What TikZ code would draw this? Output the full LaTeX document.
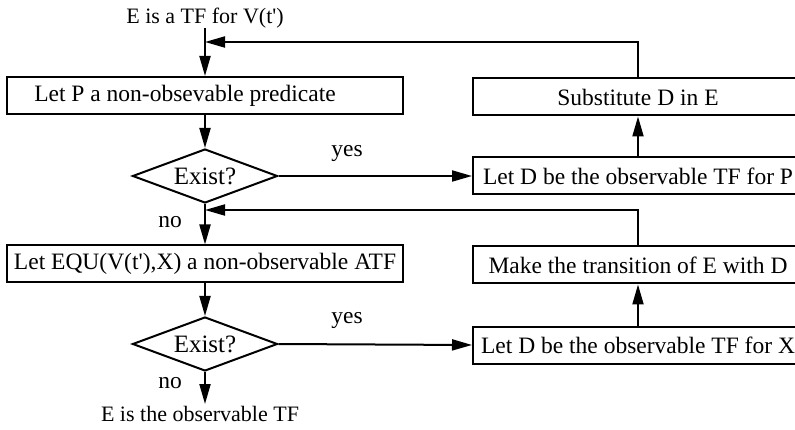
\documentclass[tikz,border=0pt]{standalone}
\usepackage{fontspec}
\setmainfont{Liberation Serif}
\usetikzlibrary{shapes.geometric,arrows.meta}
\begin{document}
\begin{tikzpicture}[x=1pt,y=-1pt,
  font=\fontsize{23.5}{26}\selectfont,
  box/.style={draw, line width=2pt, rectangle, inner sep=0pt, minimum height=37pt},
  lbox/.style={box, minimum width=396pt},
  rbox/.style={box, minimum width=330pt},
  test/.style={draw, diamond, line width=2pt, aspect=2.8, inner sep=0pt,
               minimum width=145pt, minimum height=54pt,
               font=\fontsize{25}{28}\selectfont},
  flow/.style={line width=2pt, -{Triangle[length=20pt,width=11pt]}},
  lbl/.style={inner sep=0pt},
  endtext/.style={lbl, font=\fontsize{22}{25}\selectfont}]
\path[use as bounding box] (0,0) rectangle (795,430);
\clip (0,0) rectangle (795,430);

% main column
\node[endtext] (start) at (205,18) {E is a TF for V(t\textquotesingle)};
\node[lbox] (p1) at (205,95.5) {Let P a non-obsevable predicate\hspace*{40pt}};
\node[test] (d1) at (205,176) {Exist?};
\node[lbox] (p2) at (205,264) {Let EQU(V(t\textquotesingle),X) a non-observable ATF};
\node[test] (d2) at (205,344) {Exist?};
\node[endtext] (stop) at (200,414) {E is the observable TF};

% right column
\node[rbox] (sub) at (638,97) {Substitute D in E};
\node[rbox] (obsP) at (638,176) {Let D be the observable TF for P};
\node[rbox] (trans) at (638,265) {Make the transition of E with D};
\node[rbox] (obsX) at (638,345) {Let D be the observable TF for X};

% branch labels
\node[lbl] (yes1) at (347,154) {yes};
\node[lbl] (no1) at (170,222) {no};
\node[lbl] (yes2) at (347,320) {yes};
\node[lbl] (no2) at (170,383) {no};

% junctions on the main column
\coordinate (m1) at (205,42);
\coordinate (m2) at (205,210);
\coordinate (endpt) at (205,404);

% connectors
\draw[flow] (start.south) -- (p1.north);
\draw[flow] (p1.south) -- (d1.north);
\draw[flow] (d1.east) -- (obsP.west);
\draw[flow] (obsP.north) -- (sub.south);
\draw[flow] (sub.north) |- (m1);
\draw[flow] (d1.south) -- (p2.north);
\draw[flow] (p2.south) -- (d2.north);
\draw[flow] (d2.east) -- (obsX.west);
\draw[flow] (obsX.north) -- (trans.south);
\draw[flow] (trans.north) |- (m2);
\draw[flow] (d2.south) -- (endpt);
\end{tikzpicture}
\end{document}
